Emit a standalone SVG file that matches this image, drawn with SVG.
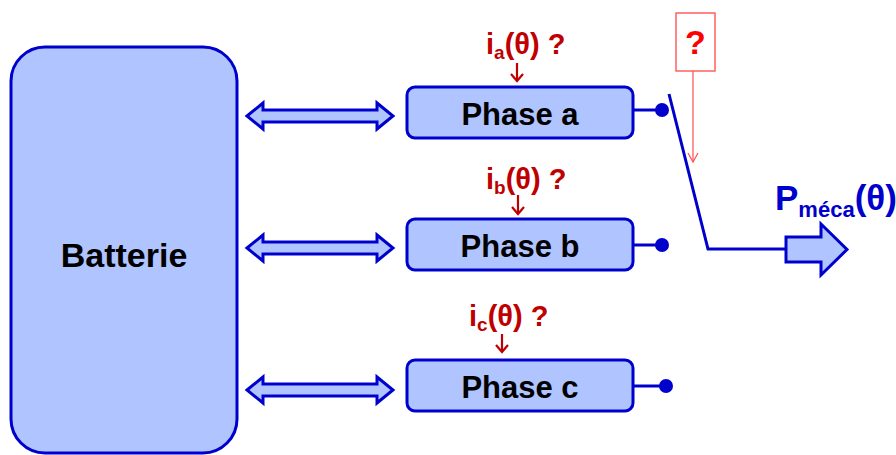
<svg xmlns="http://www.w3.org/2000/svg" width="896" height="455" viewBox="0 0 896 455">
<defs>
<style>
.box{fill:#B0C4FF;stroke:#0000CC;stroke-width:3}
.lbl{font-family:"Liberation Sans",Arial,sans-serif;font-weight:bold;fill:#000}
.red{font-family:"Liberation Sans",Arial,sans-serif;font-weight:bold;fill:#C00000;font-size:29px}
.wire{fill:none;stroke:#0000CC;stroke-width:3}
.dot{fill:#0000CC}
.dbl{fill:#B0C4FF;stroke:#0000CC;stroke-width:3;stroke-linejoin:miter}
.rarr{fill:none;stroke:#C00000;stroke-width:2.2}
</style>
</defs>
<g id="batterie">
<rect class="box" x="11" y="47" width="226" height="406" rx="34"/>
<text class="lbl" x="124" y="267" font-size="34" text-anchor="middle">Batterie</text>
</g>
<g id="phase-a">
<rect class="box" x="407" y="87" width="226" height="51" rx="8"/>
<text class="lbl" x="520" y="125" font-size="31" text-anchor="middle">Phase a</text>
</g>
<g id="phase-b">
<rect class="box" x="407" y="219" width="226" height="51" rx="8"/>
<text class="lbl" x="520" y="257" font-size="31" text-anchor="middle">Phase b</text>
</g>
<g id="phase-c">
<rect class="box" x="407" y="360" width="226" height="51" rx="8"/>
<text class="lbl" x="520" y="398" font-size="31" text-anchor="middle">Phase c</text>
</g>
<g id="labels">
<text class="red" x="486" y="54">i<tspan font-size="19" dy="5">a</tspan><tspan dy="-5">(θ) ?</tspan></text>
<text class="red" x="486" y="189">i<tspan font-size="19" dy="5">b</tspan><tspan dy="-5">(θ) ?</tspan></text>
<text class="red" x="469" y="326">i<tspan font-size="19" dy="5">c</tspan><tspan dy="-5">(θ) ?</tspan></text>
</g>
<g id="question">
<rect x="676" y="13" width="39" height="58" fill="#fff" stroke="#FF6060" stroke-width="1.5"/>
<text x="695.5" y="54" font-family="'Liberation Sans',Arial,sans-serif" font-weight="bold" font-size="34" fill="#FF0000" text-anchor="middle">?</text>
</g>
<g id="pmeca">
<polygon class="dbl" points="786,237 821,237 821,224 847,249.5 821,275 821,262 786,262"/>
<text x="775" y="210" font-family="'Liberation Sans',Arial,sans-serif" font-weight="bold" font-size="35" fill="#0000CC">P<tspan font-size="22" dy="7">méca</tspan><tspan dy="-7">(θ)</tspan></text>
</g>
<g id="connectors">
<polygon class="dbl" points="247,116 263,103 263,110 377,110 377,103 393,116 377,129 377,122 263,122 263,129"/>
<polygon class="dbl" points="247,248 263,235 263,242 377,242 377,235 393,248 377,261 377,254 263,254 263,261"/>
<polygon class="dbl" points="247,390 263,377 263,384 377,384 377,377 393,390 377,403 377,396 263,396 263,403"/>
<line class="wire" x1="633" y1="110" x2="662" y2="110"/>
<circle class="dot" cx="662" cy="110" r="7"/>
<line class="wire" x1="633" y1="245" x2="662" y2="245"/>
<circle class="dot" cx="662" cy="245" r="7"/>
<line class="wire" x1="633" y1="386" x2="666" y2="386"/>
<circle class="dot" cx="666" cy="386" r="7"/>
<polyline class="wire" points="669,94 708,249 786,249"/>
<line x1="693" y1="71" x2="693" y2="162" stroke="#FF5050" stroke-width="1.2"/>
<polyline points="688,153 693,162 698,153" fill="none" stroke="#FF5050" stroke-width="1.2"/>
<line class="rarr" x1="517" y1="63" x2="517" y2="81"/>
<polyline class="rarr" points="511,74 517,81 523,74"/>
<line class="rarr" x1="518" y1="195" x2="518" y2="214"/>
<polyline class="rarr" points="512,207 518,214 524,207"/>
<line class="rarr" x1="502" y1="334" x2="502" y2="352"/>
<polyline class="rarr" points="496,345 502,352 508,345"/>
</g>
</svg>
